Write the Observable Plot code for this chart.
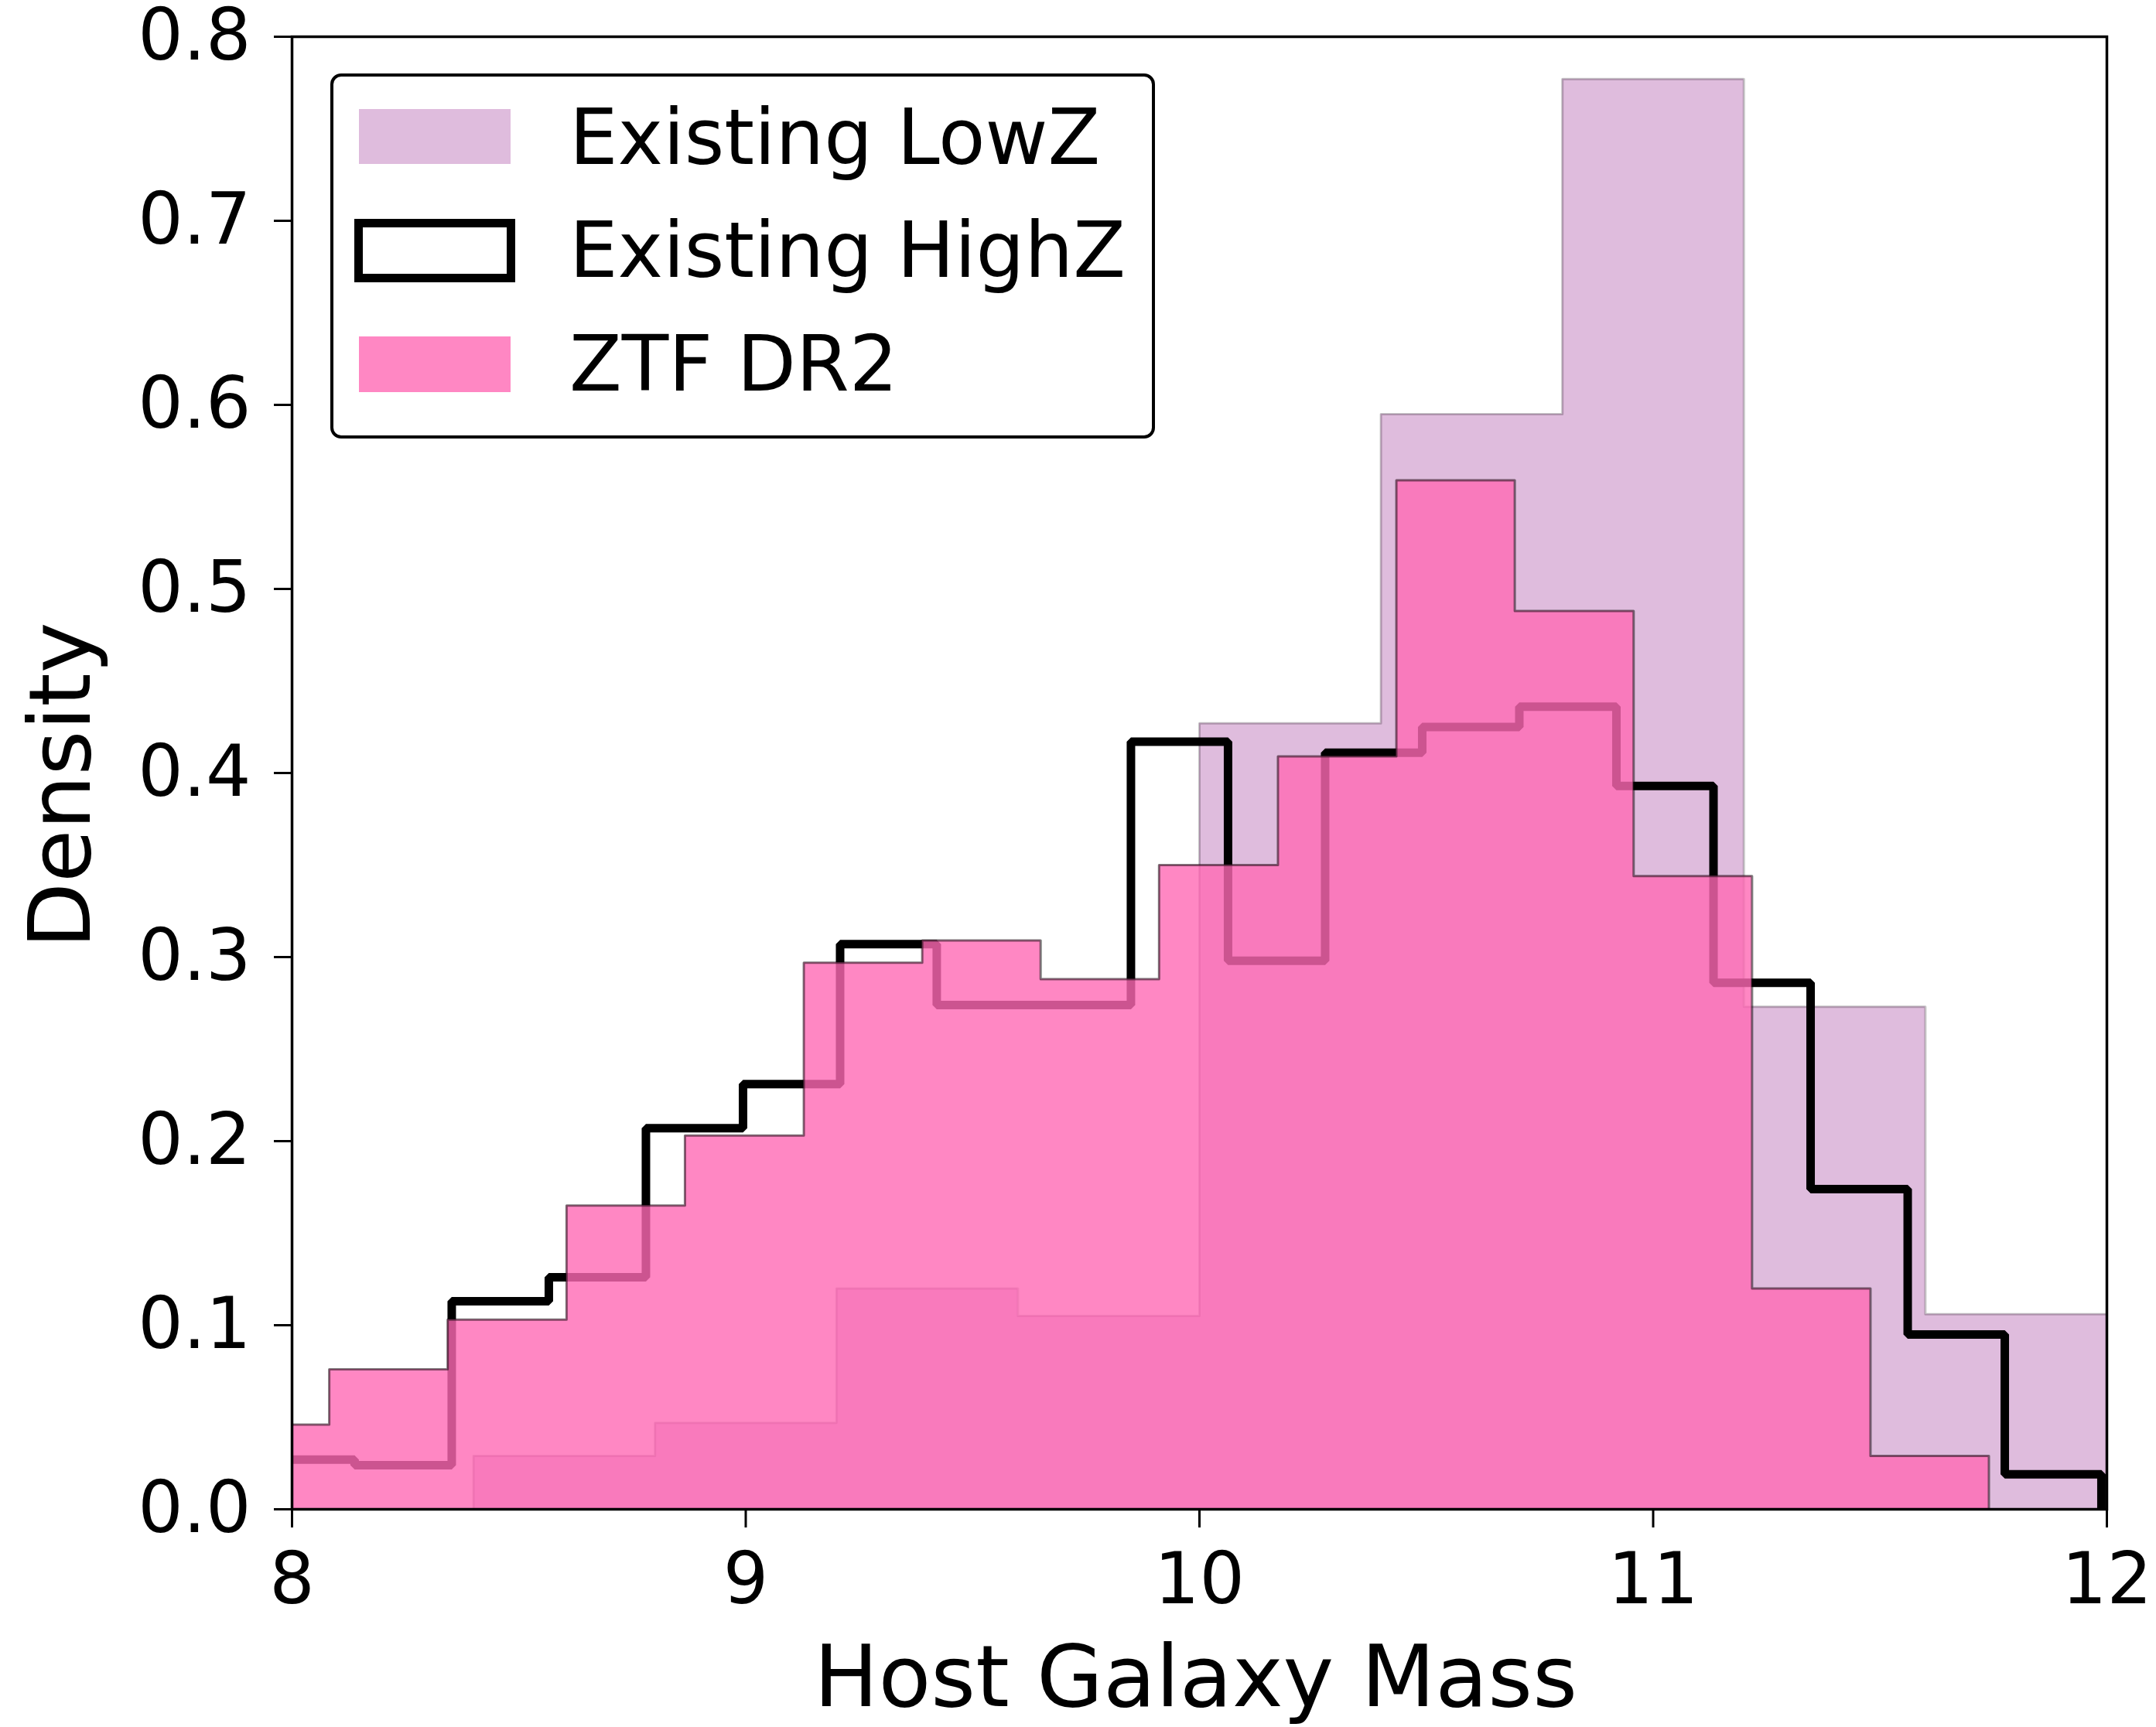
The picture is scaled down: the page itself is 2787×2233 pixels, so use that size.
<!DOCTYPE html>
<html>
<head>
<meta charset="utf-8">
<script src="https://cdn.jsdelivr.net/npm/d3@7"></script>
<script src="https://cdn.jsdelivr.net/npm/@observablehq/plot@0.6"></script>
<style>
  html, body { margin: 0; padding: 0; background: #fff; }
  #wrap { position: relative; width: 2787px; height: 2233px; font-family: "DejaVu Sans", sans-serif; }
  #legend { position: absolute; left: 427px; top: 95px; width: 1058px; height: 464px;
            border: 4px solid #000; border-radius: 14px; background: #fff; }
  .patch { position: absolute; box-sizing: border-box; }
  .lab { position: absolute; font-size: 99px; line-height: 99px; color: #000; white-space: nowrap; }
</style>
</head>
<body>
<div id="wrap"></div>
<script>
// ---- data ----
const seriesNames = ["Existing LowZ", "Existing HighZ", "ZTF DR2"];

const lowzEdges   = [8.4, 8.8, 9.2, 9.6, 10.0, 10.4, 10.8, 11.2, 11.6, 12.0];
const lowzDensity = [0.029, 0.047, 0.120, 0.105, 0.427, 0.595, 0.777, 0.273, 0.106];

const highzEdges   = [7.924, 8.138, 8.352, 8.566, 8.780, 8.994, 9.208, 9.421, 9.635, 9.849,
                      10.063, 10.277, 10.491, 10.705, 10.919, 11.133, 11.347, 11.561, 11.775, 11.988];
const highzDensity = [0.027, 0.024, 0.113, 0.126, 0.207, 0.231, 0.307, 0.274, 0.274, 0.417,
                      0.298, 0.411, 0.425, 0.436, 0.393, 0.286, 0.174, 0.095, 0.019];

const ztfEdges   = [7.821, 8.082, 8.343, 8.605, 8.866, 9.128, 9.389, 9.650, 9.911,
                    10.173, 10.434, 10.695, 10.957, 11.218, 11.479, 11.740];
const ztfDensity = [0.046, 0.076, 0.103, 0.165, 0.203, 0.297, 0.309, 0.288, 0.350,
                    0.409, 0.559, 0.488, 0.344, 0.120, 0.029];

const xTicks = [8, 9, 10, 11, 12];
const yTicks = [0, 0.1, 0.2, 0.3, 0.4, 0.5, 0.6, 0.7, 0.8];
const xLabel = "Host Galaxy Mass";
const yLabel = "Density";

// ---- build step outlines (closed to zero at both ends) ----
function stepPoints(edges, vals) {
  const pts = [{x: edges[0], y: 0}];
  vals.forEach((v, i) => pts.push({x: edges[i], y: v}));
  pts.push({x: edges[edges.length - 1], y: vals[vals.length - 1]});
  pts.push({x: edges[edges.length - 1], y: 0});
  return pts;
}
const lowz = stepPoints(lowzEdges, lowzDensity);
const highz = stepPoints(highzEdges, highzDensity);
const ztf = stepPoints(ztfEdges, ztfDensity);

const LOWZ_FILL = "#dfbcdd";
const ZTF_FILL = "#ff69b4";

const chart = Plot.plot({
  width: 2787,
  height: 2233,
  marginLeft: 377,
  marginRight: 64,
  marginTop: 47,
  marginBottom: 282,
  style: {fontFamily: "DejaVu Sans", background: "white", color: "black"},
  x: {domain: [8, 12]},
  y: {domain: [0, 0.8]},
  marks: [
    Plot.areaY(lowz, {x: "x", y: "y", curve: "step-after", fill: LOWZ_FILL, clip: true}),
    Plot.lineY(lowz, {x: "x", y: "y", curve: "step-after", stroke: "#000", strokeOpacity: 0.22, strokeWidth: 3, clip: true}),
    Plot.lineY(highz, {x: "x", y: "y", curve: "step-after", stroke: "#000", strokeWidth: 11,
                       strokeLinejoin: "miter", strokeLinecap: "butt", clip: true}),
    Plot.areaY(ztf, {x: "x", y: "y", curve: "step-after", fill: ZTF_FILL, fillOpacity: 0.8, clip: true}),
    Plot.lineY(ztf, {x: "x", y: "y", curve: "step-after", stroke: "#000", strokeOpacity: 0.5, strokeWidth: 3, clip: true}),
    Plot.frame({stroke: "#000", strokeWidth: 3.5}),
    Plot.axisX({ticks: xTicks, tickSize: 24, tickPadding: 32, fontSize: 92, strokeWidth: 3, label: null, tickFormat: d3.format("d")}),
    Plot.axisY({ticks: yTicks, tickSize: 23, tickPadding: 30, fontSize: 92, strokeWidth: 3, label: null, tickFormat: d3.format(".1f")}),
    Plot.text([xLabel], {text: d => d, frameAnchor: "bottom", textAnchor: "middle", dy: 254, dx: -5, lineAnchor: "bottom", fontSize: 111}),
    Plot.text([yLabel], {text: d => d, frameAnchor: "left", textAnchor: "middle", dx: -340, dy: 16, rotate: -90, lineAnchor: "top", fontSize: 111})
  ]
});

const wrap = document.getElementById("wrap");
wrap.appendChild(chart);

// ---- legend (inside the axes, upper left) ----
const legend = document.createElement("div");
legend.id = "legend";
wrap.appendChild(legend);

const patchStyles = [
  {left: 464, top: 141, width: 196, height: 71, background: LOWZ_FILL, border: "none"},
  {left: 458, top: 283, width: 208, height: 82, background: "#fff", border: "11px solid #000"},
  {left: 464, top: 435, width: 196, height: 72, background: "rgba(255,105,180,0.8)", border: "none"}
];
// baseline targets 212, 358, 505 (line-height 99 -> baseline ~84px below top)
const labelTops = [128, 274, 421];
seriesNames.forEach((name, i) => {
  const p = document.createElement("div");
  p.className = "patch";
  const s = patchStyles[i];
  Object.assign(p.style, {left: s.left + "px", top: s.top + "px", width: s.width + "px", height: s.height + "px",
                          background: s.background, border: s.border});
  wrap.appendChild(p);
  const t = document.createElement("div");
  t.className = "lab";
  t.textContent = name;
  t.style.left = "736px";
  t.style.top = labelTops[i] + "px";
  wrap.appendChild(t);
});
</script>
</body>
</html>
